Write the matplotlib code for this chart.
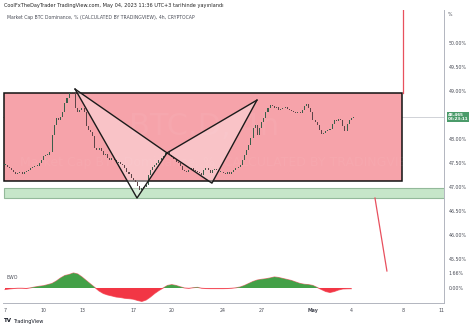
import numpy as np
import matplotlib.pyplot as plt
from matplotlib.patches import Rectangle, Polygon

# 4h closes, BTC dominance (%), starting Apr 7 00:00
closes = [
    47.46, 47.42, 47.40, 47.35, 47.31, 47.27, 47.29, 47.31, 47.27, 47.31,
    47.33, 47.35, 47.40, 47.42, 47.44, 47.44, 47.50, 47.56, 47.65, 47.67,
    47.67, 47.73, 48.08, 48.29, 48.44, 48.40, 48.46, 48.56, 48.75, 48.85,
    48.96, 48.98, 48.96, 48.65, 48.56, 48.60, 48.65, 48.56, 48.27, 48.19,
    48.15, 48.06, 47.81, 47.77, 47.81, 47.75, 47.67, 47.69, 47.60, 47.56,
    47.60, 47.56, 47.50, 47.52, 47.48, 47.46, 47.40, 47.31, 47.27, 47.19,
    47.15, 47.10, 47.02, 46.94, 46.98, 47.00, 47.04, 47.25, 47.35, 47.42,
    47.46, 47.50, 47.56, 47.60, 47.65, 47.71, 47.73, 47.67, 47.62, 47.58,
    47.52, 47.50, 47.44, 47.35, 47.33, 47.31, 47.35, 47.40, 47.35, 47.33,
    47.31, 47.29, 47.25, 47.35, 47.40, 47.35, 47.29, 47.35, 47.38, 47.35,
    47.31, 47.31, 47.29, 47.27, 47.31, 47.27, 47.31, 47.35, 47.40, 47.42,
    47.46, 47.56, 47.67, 47.77, 47.88, 48.02, 48.23, 48.29, 48.08, 48.23,
    48.35, 48.44, 48.56, 48.65, 48.71, 48.69, 48.65, 48.67, 48.60, 48.62,
    48.65, 48.67, 48.62, 48.60, 48.58, 48.56, 48.54, 48.56, 48.54, 48.60,
    48.69, 48.73, 48.65, 48.56, 48.40, 48.35, 48.29, 48.19, 48.10, 48.12,
    48.17, 48.19, 48.21, 48.31, 48.40, 48.38, 48.42, 48.40, 48.27, 48.17,
    48.31, 48.40, 48.44, 48.465,
]

# EWO oscillator (%), one value every 8h
ewo = [
    -0.17, -0.11, -0.06, -0.03, -0.03, -0.06, 0.02, 0.11, 0.19, 0.25,
    0.37, 0.50, 0.77, 1.11, 1.38, 1.49, 1.66, 1.55, 1.22, 0.83,
    0.44, 0.06, -0.33, -0.61, -0.77, -0.88, -1.00, -1.05, -1.14, -1.18,
    -1.24, -1.38, -1.49, -1.33, -1.00, -0.61, -0.28, 0.00, 0.28, 0.37,
    0.28, 0.13, 0.00, -0.04, 0.03, 0.07, -0.03, -0.06, -0.07, -0.07,
    -0.07, -0.07, -0.06, -0.03, 0.02, 0.11, 0.28, 0.50, 0.72, 0.88,
    0.96, 1.02, 1.11, 1.22, 1.16, 1.05, 0.94, 0.83, 0.66, 0.50,
    0.41, 0.37, 0.28, 0.06, -0.17, -0.39, -0.50, -0.39, -0.22, -0.11,
    -0.09, -0.08,
]

# XABCD pattern points (day offset from Apr 7, price)
pattern_days = [5.46, 10.29, 12.63, 16.13, 19.64]
pattern_prices = [49.04, 46.77, 47.71, 47.08, 48.81]

box_days = [-0.08, 30.98]
box_prices = [47.125, 48.96]
zone_prices = [46.77, 46.98]

tick_days = [0, 3, 6, 10, 13, 17, 20, 24, 27, 31, 34]
tick_labels = ["7", "10", "13", "17", "20", "24", "27", "May", "4", "8", "11"]
price_ticks = [45.5, 46.0, 46.5, 47.0, 47.5, 48.0, 49.0, 49.5, 50.0]
last_price = 48.465

closes = np.array(closes)
opens = np.r_[closes[0], closes[:-1]]
days = np.arange(len(closes)) / 6.0
ewo_days = np.arange(len(ewo)) / 3.0
ewo = np.array(ewo)

fig = plt.figure(figsize=(4.74, 3.29), dpi=100)
ax = fig.add_axes([3 / 474, 1 - 303 / 329, 441 / 474, 293 / 329])
ax2 = ax.twinx()
ax.set_xlim(-0.156, 34.22)
ax.set_ylim(44.583, 50.6875)

txt = "#4a4d57"

# zones
ax.add_patch(Rectangle((box_days[0], box_prices[0]), box_days[1] - box_days[0],
                       box_prices[1] - box_prices[0], facecolor="#f6a3aa",
                       edgecolor="#111111", lw=1.1, zorder=1))
ax.add_patch(Rectangle((box_days[0], zone_prices[0]), 35,
                       zone_prices[1] - zone_prices[0], facecolor="#c6e6c9",
                       edgecolor="#93b99a", lw=0.8, zorder=1))

# watermark
ax.text(15.5, 48.25, "BTC.D, 4h", fontsize=22, color="#ffffff", alpha=0.05,
        ha="center", va="center", zorder=1.5)
ax.text(16.9, 47.5, "Market Cap BTC Dominance, % (CALCULATED BY TRADINGVIEW)",
        fontsize=9, color="#ffffff", alpha=0.05, ha="center", va="center", zorder=1.5)

# harmonic triangles
pts = list(zip(pattern_days, pattern_prices))
for tri in (pts[0:3], pts[2:5]):
    ax.add_patch(Polygon(tri, closed=True, facecolor="#ffffff", alpha=0.35,
                         edgecolor="none", zorder=2))
ax.plot(pattern_days, pattern_prices, color="#1b1b1b", lw=1.0, zorder=4)
ax.plot([pattern_days[0], pattern_days[2], pattern_days[4]],
        [pattern_prices[0], pattern_prices[2], pattern_prices[4]],
        color="#1b1b1b", lw=1.0, zorder=4)

# candles
up = closes >= opens
body_lo = np.minimum(opens, closes)
body_h = np.maximum(np.abs(closes - opens), 0.015)
ax.bar(days[up], body_h[up], bottom=body_lo[up], width=0.08,
       color="#3b5f4b", lw=0, zorder=3)
ax.bar(days[~up], body_h[~up], bottom=body_lo[~up], width=0.08,
       color="#5e4448", lw=0, zorder=3)

# last price line
ax.axhline(last_price, color="#c9cbd1", lw=0.6, zorder=0.5)

# red projection lines
ax.plot([31.0, 31.0], [box_prices[1], 50.7], color="#e8505e", lw=0.9, zorder=4)
ax.plot([28.84, 29.77], [46.77, 45.25], color="#e8505e", lw=0.9, zorder=4)

ax.set_xticks(tick_days)
ax.set_xticklabels(tick_labels, fontsize=3.4, color=txt)
ax.get_xticklabels()[7].set_fontweight("bold")
ax.yaxis.tick_right()
ax.set_yticks(price_ticks)
ax.set_yticklabels([f"{p:.2f}%" for p in price_ticks], fontsize=3.4, color=txt)
ax.tick_params(length=0, pad=3.5)
for s in ("top", "left"):
    ax.spines[s].set_visible(False)
for s in ("right", "bottom"):
    ax.spines[s].set_color("#b2b5be")
    ax.spines[s].set_linewidth(0.7)

# EWO overlay
ax2.set_ylim(-1.66, 30.75)
ax2.plot(ewo_days, ewo, color="#f7707b", lw=0.7, zorder=2)
ax2.fill_between(ewo_days, 0, ewo, where=ewo >= 0, interpolate=True,
                 color="#43a047", lw=0, zorder=3)
ax2.fill_between(ewo_days, 0, ewo, where=ewo <= 0, interpolate=True,
                 color="#f23645", lw=0, zorder=3)
ax2.set_yticks([0, 1.66])
ax2.set_yticklabels(["0.00%", "1.66%"], fontsize=3.4, color=txt)
ax2.tick_params(length=0, pad=3.5)
for s in ("top", "left", "right", "bottom"):
    ax2.spines[s].set_visible(False)
ax2.text(0.1, 1.2, "EWO", fontsize=3.4, color=txt, va="center")

# price tag
ax.text(34.5, last_price, "48.465\n03:23:11", fontsize=3.0, color="white",
        va="center", ha="left", linespacing=0.9, fontweight="bold",
        bbox=dict(boxstyle="square,pad=0.25", fc="#4b9b6a", ec="none"),
        clip_on=False, zorder=6)

# headers
fig.text(4 / 474, 1 - 6 / 329,
         "CoolFxTheDayTrader TradingView.com, May 04, 2023 11:36 UTC+3 tarihinde yay\u0131nland\u0131",
         fontsize=3.6, color="#222222", va="center")
fig.text(7 / 474, 1 - 17 / 329,
         "Market Cap BTC Dominance, % (CALCULATED BY TRADINGVIEW), 4h, CRYPTOCAP",
         fontsize=3.3, color=txt, va="center")
fig.text(448 / 474, 1 - 15 / 329, "%", fontsize=3.4, color=txt, va="center")
fig.text(4 / 474, 1 - 321 / 329, "TV", fontsize=4, color="#131722",
         fontweight="bold", va="center")
fig.text(13 / 474, 1 - 321 / 329, "TradingView", fontsize=3.6, color="#131722",
         va="center")

fig.savefig("out.png", dpi=100)
